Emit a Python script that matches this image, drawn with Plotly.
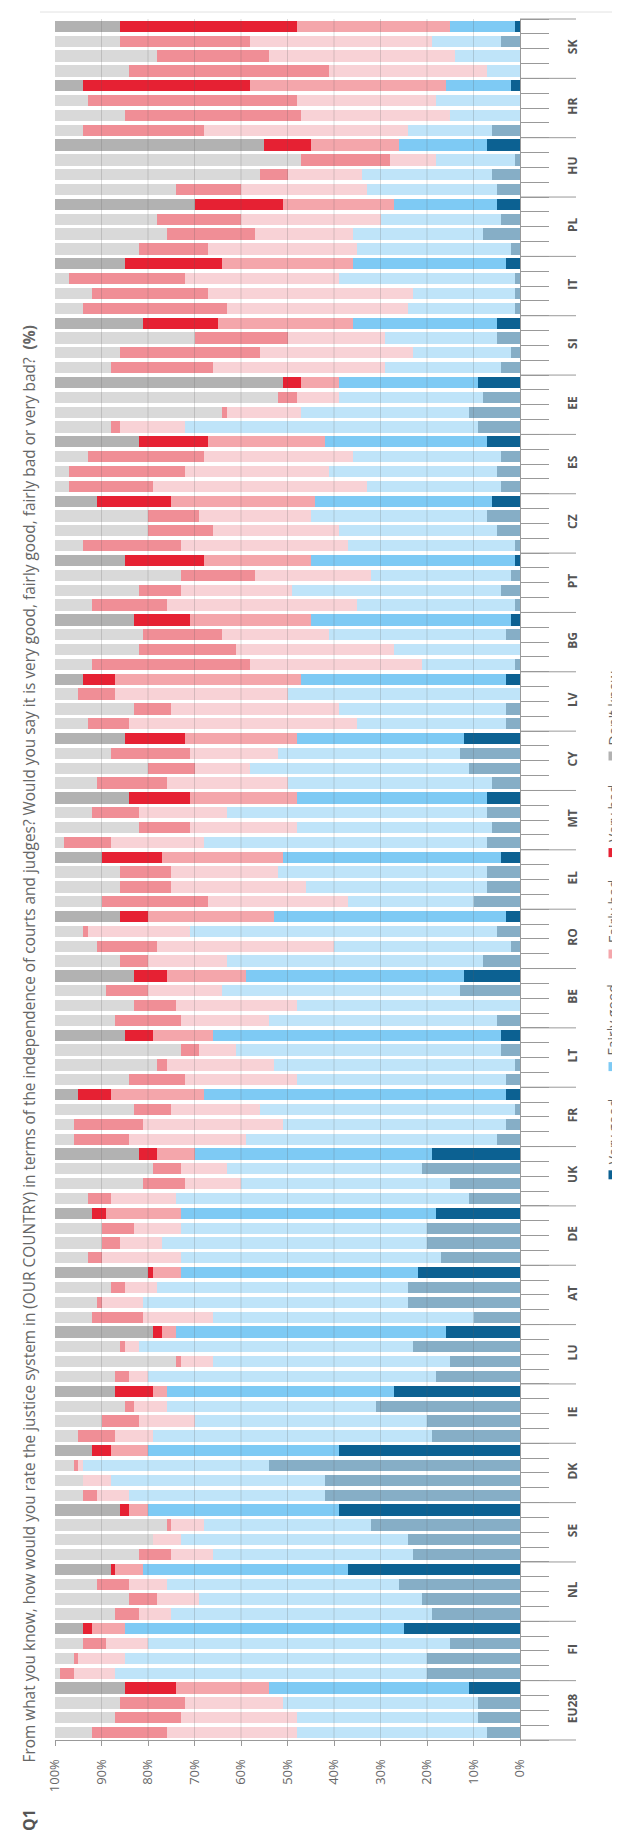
import numpy as np
import plotly.graph_objects as go

countries = ["SK", "HR", "HU", "PL", "IT", "SI", "EE", "ES", "CZ", "PT", "BG", "LV", "CY", "MT",
             "EL", "RO", "BE", "LT", "FR", "UK", "DE", "AT", "LU", "IE", "DK", "SE", "NL", "FI", "EU28"]
waves = ["2019", "2018", "2017", "2016"]  # top bar (highlighted) first

categories = ["Very good", "Fairly good", "Fairly bad", "Very bad", "Don't know"]

very_good = [1, 4, 0, 0,   2, 0, 0, 6,   7, 1, 6, 5,   5, 4, 8, 2,   3, 1, 1, 1,   5, 5, 2, 4,
             9, 8, 11, 9,  7, 4, 5, 4,   6, 7, 5, 1,   1, 2, 4, 1,   2, 3, 0, 1,   3, 0, 3, 3,
             12, 13, 11, 6,  7, 7, 6, 7,  4, 7, 7, 10,  3, 5, 2, 8,  12, 13, 0, 5,  4, 4, 1, 3,
             3, 1, 3, 5,   19, 21, 15, 11,  18, 20, 20, 17,  22, 24, 24, 10,  16, 23, 15, 18,
             27, 31, 20, 19,  39, 54, 42, 42,  39, 32, 24, 23,  37, 26, 21, 19,  25, 15, 20, 20,
             11, 9, 9, 7]
fairly_good = [14, 15, 14, 7,  14, 18, 15, 18,  19, 17, 28, 28,  22, 26, 28, 33,  33, 38, 22, 23,
               31, 24, 21, 25,  30, 31, 36, 63,  35, 32, 36, 29,  38, 38, 34, 36,  44, 30, 45, 34,
               43, 38, 27, 20,  44, 50, 36, 32,  36, 39, 47, 44,  41, 56, 42, 61,  47, 45, 39, 27,
               50, 66, 38, 55,  47, 51, 48, 49,  62, 57, 52, 45,  65, 55, 48, 54,  51, 42, 45, 63,
               55, 53, 57, 56,  51, 54, 57, 56,  58, 59, 51, 62,  49, 45, 50, 60,  41, 40, 46, 42,
               41, 36, 49, 43,  44, 50, 48, 56,  60, 65, 65, 67,  43, 42, 39, 41]
fairly_bad = [33, 39, 40, 34,  42, 30, 32, 44,  19, 10, 16, 27,  24, 30, 21, 32,  28, 33, 44, 39,
              29, 21, 33, 37,  8, 9, 16, 14,  25, 32, 31, 46,  31, 24, 27, 36,  23, 25, 24, 41,
              26, 23, 34, 37,  40, 37, 36, 49,  24, 19, 12, 26,  23, 19, 23, 20,  26, 23, 29, 30,
              27, 22, 38, 17,  17, 16, 26, 19,  13, 8, 23, 24,  20, 19, 30, 25,  8, 10, 12, 14,
              16, 10, 9, 17,  6, 7, 9, 15,  3, 3, 7, 4,  3, 7, 12, 8,  8, 1, 6, 7,
              4, 7, 6, 9,  6, 8, 9, 7,  7, 9, 10, 9,  20, 21, 25, 28]
very_bad = [38, 28, 24, 43,  36, 45, 38, 26,  10, 19, 6, 14,  19, 18, 19, 15,  21, 25, 25, 31,
            16, 20, 30, 22,  4, 4, 1, 2,  15, 25, 25, 18,  16, 11, 14, 21,  17, 16, 9, 16,
            12, 17, 21, 34,  7, 8, 8, 9,  13, 17, 10, 15,  13, 10, 11, 10,  13, 11, 11, 23,
            6, 1, 13, 6,  7, 9, 9, 14,  6, 4, 2, 12,  7, 8, 15, 12,  4, 6, 9, 5,
            3, 7, 4, 3,  1, 3, 1, 11,  2, 1, 1, 3,  8, 2, 8, 8,  4, 1, 0, 3,
            2, 1, 0, 7,  1, 7, 6, 5,  2, 5, 1, 3,  11, 14, 14, 16]
dont_know = [14, 14, 22, 16,  6, 7, 15, 6,  45, 53, 44, 26,  30, 22, 24, 18,  15, 3, 8, 6,
             19, 30, 14, 12,  49, 48, 36, 12,  18, 7, 3, 3,  9, 20, 20, 6,  15, 27, 18, 8,
             17, 19, 18, 8,  6, 5, 17, 7,  15, 12, 20, 9,  16, 8, 18, 2,  10, 14, 14, 10,
             14, 6, 9, 14,  17, 11, 17, 13,  15, 27, 22, 16,  5, 17, 4, 4,  18, 21, 19, 7,
             8, 10, 10, 7,  20, 12, 9, 8,  21, 14, 26, 13,  13, 15, 10, 5,  8, 4, 6, 6,
             14, 24, 21, 18,  12, 9, 16, 13,  6, 6, 4, 1,  15, 14, 13, 8]

x_ticks = list(range(0, 101, 10))

# ---- styling ----
strong = ["#0c6192", "#7ecaf4", "#f4a6ab", "#e62133", "#b2b2b2"]
faded = ["#86aec6", "#bfe4f9", "#f8d2d6", "#f08e96", "#d9d9d9"]
FONT = "Open Sans"

W, H = 620, 1831
ML, MR, MT, MB = 47, 108, 11, 99
PW, PH = W - ML - MR, H - MT - MB


def px(x):
    return (x - ML) / PW


def py(y):
    return (H - MB - y) / PH


rows = [(c, w) for c in countries for w in waves]
n = len(rows)
ypos = np.arange(n)
is_top = [w == waves[0] for c, w in rows]
labels = [f"{c} {w}" for c, w in rows]

fig = go.Figure()
all_vals = [very_good, fairly_good, fairly_bad, very_bad, dont_know]
for name, vals, cs, cf in zip(categories, all_vals, strong, faded):
    fig.add_trace(go.Bar(
        y=ypos, x=vals, orientation="h", name=name, width=0.76,
        marker=dict(color=[cs if t else cf for t in is_top], line=dict(width=0)),
        customdata=labels, hovertemplate="%{customdata}: %{x}%<extra>" + name + "</extra>",
        showlegend=False,
    ))

nw = len(waves)
shapes = []
# vertical grid lines drawn over the bars
for v in x_ticks[1:-1]:
    shapes.append(dict(type="line", xref="x", yref="paper", x0=v, x1=v, y0=0, y1=1,
                       line=dict(color="rgba(90,90,90,0.22)", width=1), layer="above"))
# group separators on the right
for g in range(len(countries) + 1):
    yb = 1 - (g * nw) / n
    shapes.append(dict(type="line", xref="paper", yref="paper", x0=1, x1=px(568), y0=yb, y1=yb,
                       line=dict(color="#999999", width=1)))
# faint top line
shapes.append(dict(type="line", xref="paper", yref="paper", x0=px(32), x1=px(620), y0=py(4), y1=py(4),
                   line=dict(color="#e2e2e2", width=1)))

annotations = []
title = ("From what you know, how would you rate the justice system in (OUR COUNTRY) in terms of the "
         "independence of courts and judges? Would you say it is very good, fairly good, fairly bad "
         "or very bad?  <b>(%)</b>")
annotations.append(dict(text=title, textangle=-90, xref="paper", yref="paper", x=px(21), y=py(1757),
                        xanchor="center", yanchor="bottom", showarrow=False,
                        font=dict(family=FONT, size=15.4, color="#666666")))
annotations.append(dict(text="<b>Q1</b>", textangle=-90, xref="paper", yref="paper", x=px(21), y=py(1812),
                        xanchor="center", yanchor="middle", showarrow=False,
                        font=dict(family=FONT, size=16, color="#555555")))

# legend (rotated), square centres in pixels
legend_y = [1166.8, 1058.6, 946.0, 844.6, 748.0]
LEG_X = 605
sq = 9
for name, col, yc in zip(categories, strong, legend_y):
    shapes.append(dict(type="rect", xref="paper", yref="paper",
                       x0=px(LEG_X - sq / 2), x1=px(LEG_X + sq / 2), y0=py(yc + sq / 2), y1=py(yc - sq / 2),
                       fillcolor=col, line=dict(width=0)))
    annotations.append(dict(text=name, textangle=-90, xref="paper", yref="paper", x=px(LEG_X),
                            y=py(yc - sq / 2 - 5), xanchor="center", yanchor="bottom", showarrow=False,
                            borderpad=0, font=dict(family=FONT, size=14, color="#666666")))

fig.update_layout(
    width=W, height=H, margin=dict(l=ML, r=MR, t=MT, b=MB, pad=0),
    barmode="stack", bargap=0, plot_bgcolor="white", paper_bgcolor="white",
    font=dict(family=FONT, color="#666666"),
    shapes=shapes, annotations=annotations,
    xaxis=dict(range=[100, 0], tickvals=x_ticks, ticktext=[f"{v}%" for v in x_ticks], tickangle=-90,
               ticks="outside", ticklen=5, tickcolor="#999999", showline=True, linecolor="#999999",
               showgrid=False, zeroline=False, tickfont=dict(family=FONT, size=13, color="#666666"),
               ticklabelstandoff=8, fixedrange=True),
    yaxis=dict(range=[n - 0.5, -0.5], side="right",
               tickvals=[g * nw + (nw - 1) / 2 for g in range(len(countries))],
               ticktext=[f"<b>{c}</b>" for c in countries], tickangle=-90, ticks="",
               showline=True, linecolor="#999999", showgrid=False, zeroline=False,
               tickfont=dict(family=FONT, size=12, color="#555555"), ticklabelstandoff=42,
               minor=dict(tickvals=[i - 0.5 for i in range(n + 1)], ticks="outside", ticklen=28,
                          tickcolor="#999999", showgrid=False),
               fixedrange=True),
)

fig.write_html("out.html")
